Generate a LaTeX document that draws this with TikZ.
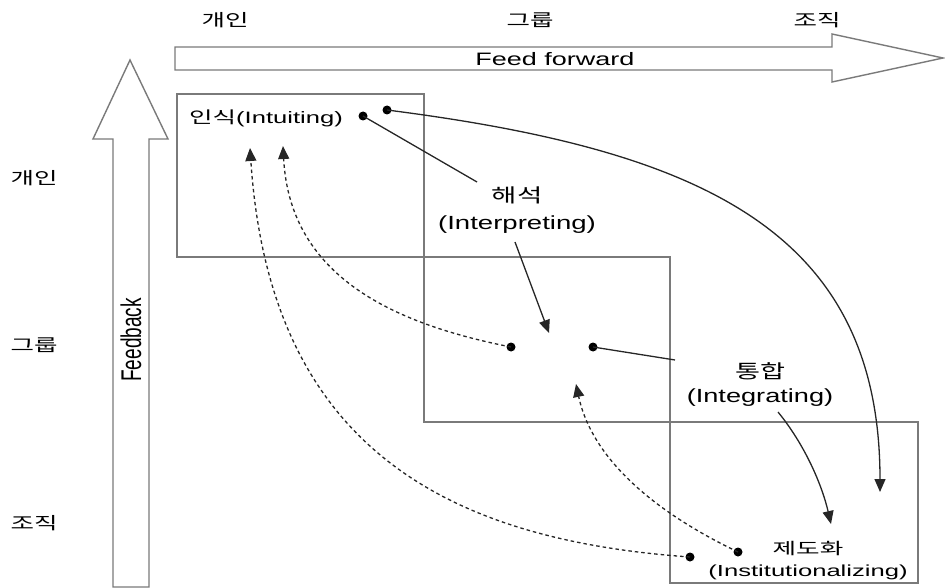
\documentclass[tikz,border=0pt]{standalone}
\usepackage{fontspec}
\usepackage{graphicx}
\setmainfont{Liberation Sans}
\newfontfamily\kr{Noto Sans CJK KR}
\usetikzlibrary{arrows.meta}
\newcommand\hstretch[2]{\scalebox{#1}[1]{#2}}
\definecolor{boxgray}{HTML}{7A7A7A}
\definecolor{linedark}{HTML}{262626}
\tikzset{
  frame/.style={draw=boxgray, line width=1.5pt},
  bigarrow/.style={draw=boxgray, line width=1.4pt, fill=white},
  axislab/.style={font=\kr\fontsize{17}{17}\selectfont, inner sep=0pt},
  lab/.style={inner sep=0pt, align=center},
  dot/.style={circle, fill=black, inner sep=0pt, minimum size=9pt},
  conn/.style={draw=linedark, line width=1.3pt},
  tip/.style={-{Triangle[length=13pt,width=11pt]}},
  dsh/.style={draw=linedark, line width=1.3pt, dash pattern=on 3.5pt off 3pt}
}
\begin{document}
\begin{tikzpicture}[x=1pt,y=-1pt]
\useasboundingbox (0,0) rectangle (945,588);
% boxes
\draw[frame] (177,94) rectangle (424,257);
\draw[frame] (424,257) rectangle (670,422);
\draw[frame] (670,422) rectangle (918,583);
% Feed forward arrow
\draw[bigarrow] (175,47) -- (832,47) -- (832,34) -- (943,58) -- (832,82) -- (832,70) -- (175,70) -- cycle;
\node[lab, font=\fontsize{18}{18}\selectfont] (ff) at (555,59) {\hstretch{1.5}{Feed forward}};
% Feedback arrow
\draw[bigarrow] (113,587) -- (113,139) -- (93,139) -- (130,60) -- (168,139) -- (149,139) -- (149,587) -- cycle;
\node[lab, rotate=90, font=\fontsize{19}{19}\selectfont] (fb) at (131,340) {\scalebox{1}[1.5]{Feedback}};
% axis labels
\node[axislab] (t1) at (225,20) {\hstretch{1.5}{개인}};
\node[axislab] (t2) at (530,20) {\hstretch{1.5}{그룹}};
\node[axislab] (t3) at (817,20) {\hstretch{1.5}{조직}};
\node[axislab] (l1) at (34,178) {\hstretch{1.5}{개인}};
\node[axislab] (l2) at (34,345) {\hstretch{1.5}{그룹}};
\node[axislab] (l3) at (34,523) {\hstretch{1.5}{조직}};
% stage labels
\node[lab, font=\fontsize{16.5}{16.5}\selectfont] (intu) at (266,118) {\hstretch{1.55}{{\kr 인식}(Intuiting)}};
\node[lab, font=\fontsize{19}{27}\selectfont] (interp) at (517,210) {\hstretch{1.45}{\kr 해석}\\\hstretch{1.45}{(Interpreting)}};
\node[lab, font=\fontsize{19}{24}\selectfont] (integ) at (760,385) {\hstretch{1.43}{\kr 통합}\\\hstretch{1.43}{(Integrating)}};
\node[lab, font=\fontsize{16}{22}\selectfont] (inst) at (808,561) {\hstretch{1.6}{\kr 제도화}\\\hstretch{1.6}{(Institutionalizing)}};
% dots
\node[dot] (d1) at (363,116) {};
\node[dot] (d2) at (387,110) {};
\node[dot] (d3) at (511,347) {};
\node[dot] (d4) at (593,347) {};
\node[dot] (d5) at (690,557) {};
\node[dot] (d6) at (738,552) {};
% free ends
\coordinate (a1) at (477,182);
\coordinate (a2s) at (515,242);
\coordinate (a2) at (549,333);
\coordinate (a3) at (675,360);
\coordinate (a4s) at (778,412);
\coordinate (a4) at (831,524);
\coordinate (a5) at (880,492);
\coordinate (b1) at (283,146);
\coordinate (b2) at (250,148);
\coordinate (b3) at (576,384);
% solid connectors
\draw[conn] (d1.center) -- (a1);
\draw[conn, tip] (a2s) -- (a2);
\draw[conn] (d4.center) -- (a3);
\draw[conn, tip] (a4s) .. controls (805,445) and (822,485) .. (a4);
\draw[conn, tip] (d2.center) .. controls (700,150) and (880,230) .. (a5);
% dashed connectors
\draw[dsh, tip] (d3.center) .. controls (400,325) and (290,280) .. (b1);
\draw[dsh, tip] (d5.center) .. controls (450,540) and (270,450) .. (b2);
\draw[dsh, tip] (d6.center) .. controls (640,505) and (590,450) .. (b3);
\end{tikzpicture}
\end{document}
